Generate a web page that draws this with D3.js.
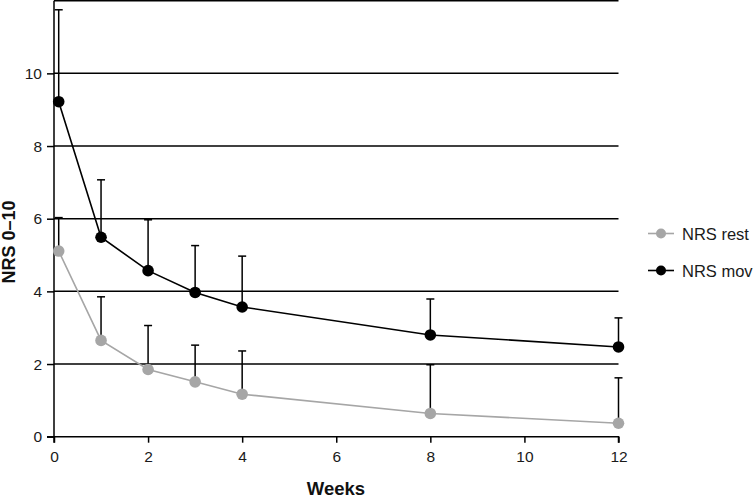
<!DOCTYPE html>
<html>
<head>
<meta charset="utf-8">
<script src="https://cdn.jsdelivr.net/npm/d3@7"></script>
<style>
  html, body { margin: 0; padding: 0; background: #fff; }
  svg { display: block; font-family: "Liberation Sans", Arial, sans-serif; }
</style>
</head>
<body>
<svg id="chart" width="753" height="498"></svg>
<script>
const weeks = [0.1, 1, 2, 3, 4, 8, 12];
const restMean = [5.11, 2.65, 1.85, 1.51, 1.17, 0.64, 0.37];
const restUpper = [6.03, 3.85, 3.06, 2.52, 2.36, 1.98, 1.62];
const movMean = [9.22, 5.49, 4.57, 3.97, 3.57, 2.80, 2.47];
const movUpper = [11.75, 7.07, 5.97, 5.26, 4.97, 3.79, 3.27];
const xTicks = [0, 2, 4, 6, 8, 10, 12];
const yTicks = [0, 2, 4, 6, 8, 10, 12];
const seriesNames = ["NRS rest", "NRS mov"];
const seriesColors = ["#a6a6a6", "#000000"];

const svg = d3.select("#chart");
const x = d3.scaleLinear().domain([0, 12]).range([54, 618.5]);
const y = d3.scaleLinear().domain([0, 12]).range([436.7, 0.7]);

// gridlines
svg.append("g").selectAll("line").data(yTicks.filter(d => d > 0)).join("line")
  .attr("x1", x(0)).attr("x2", x(12)).attr("y1", d => y(d)).attr("y2", d => y(d))
  .attr("stroke", "#000").attr("stroke-width", 1.5);

// axes
const xAxis = d3.axisBottom(x).tickValues(xTicks).tickSize(6).tickPadding(8).tickFormat(d3.format("d"));
const gx = svg.append("g").attr("transform", `translate(0,${y(0)})`).call(xAxis);
const yAxis = d3.axisLeft(y).tickValues(yTicks.filter(d => d < 12)).tickSize(7).tickPadding(5).tickFormat(d3.format("d"));
const gy = svg.append("g").attr("transform", `translate(${x(0)},0)`).call(yAxis);
[gx, gy].forEach(g => {
  g.select(".domain").attr("stroke", "#000").attr("stroke-width", 1.5);
  g.selectAll(".tick line").attr("stroke", "#000").attr("stroke-width", 1.5);
  g.selectAll(".tick text").attr("font-size", 15.5).attr("fill", "#1a1a1a")
    .attr("font-family", "Liberation Sans, Arial, sans-serif");
});
gy.select(".domain").attr("d", `M-7,${y(0)}H0V${y(12)}`);
gx.select(".domain").attr("d", `M${x(0)},6V0H${x(12)}V6`);

// axis titles
svg.append("text").attr("x", 336).attr("y", 495).attr("text-anchor", "middle")
  .attr("font-weight", "bold").attr("font-size", 18.5).attr("fill", "#111").text("Weeks");
svg.append("text").attr("transform", "translate(15,242) rotate(-90)").attr("text-anchor", "middle")
  .attr("font-weight", "bold").attr("font-size", 18).attr("fill", "#111").text("NRS 0–10");

const series = [
  { mean: restMean, upper: restUpper },
  { mean: movMean, upper: movUpper }
];

series.forEach((s, i) => {
  const pts = weeks.map((w, j) => ({ w, m: s.mean[j], u: s.upper[j] }));
  const g = svg.append("g");
  // error bars
  g.selectAll("line.err").data(pts).join("line").attr("class", "err")
    .attr("x1", d => x(d.w)).attr("x2", d => x(d.w)).attr("y1", d => y(d.m)).attr("y2", d => y(d.u))
    .attr("stroke", "#000").attr("stroke-width", 1.5);
  g.selectAll("line.cap").data(pts).join("line").attr("class", "cap")
    .attr("x1", d => x(d.w) - 4).attr("x2", d => x(d.w) + 4).attr("y1", d => y(d.u)).attr("y2", d => y(d.u))
    .attr("stroke", "#000").attr("stroke-width", 1.5);
  // line
  g.append("path").datum(pts)
    .attr("d", d3.line().x(d => x(d.w)).y(d => y(d.m)))
    .attr("fill", "none").attr("stroke", seriesColors[i]).attr("stroke-width", 1.6);
  g.selectAll("circle").data(pts).join("circle")
    .attr("cx", d => x(d.w)).attr("cy", d => y(d.m)).attr("r", 5.8)
    .attr("fill", seriesColors[i]);
});

// legend
const legend = svg.append("g");
seriesNames.forEach((name, i) => {
  const ly = 233.5 + i * 37;
  legend.append("line").attr("x1", 648).attr("x2", 674).attr("y1", ly).attr("y2", ly)
    .attr("stroke", seriesColors[i]).attr("stroke-width", 1.6);
  legend.append("circle").attr("cx", 661).attr("cy", ly).attr("r", 5).attr("fill", seriesColors[i]);
  legend.append("text").attr("x", 682).attr("y", ly + 6).attr("font-size", 16.5).attr("fill", "#1a1a1a").text(name);
});
</script>
</body>
</html>
